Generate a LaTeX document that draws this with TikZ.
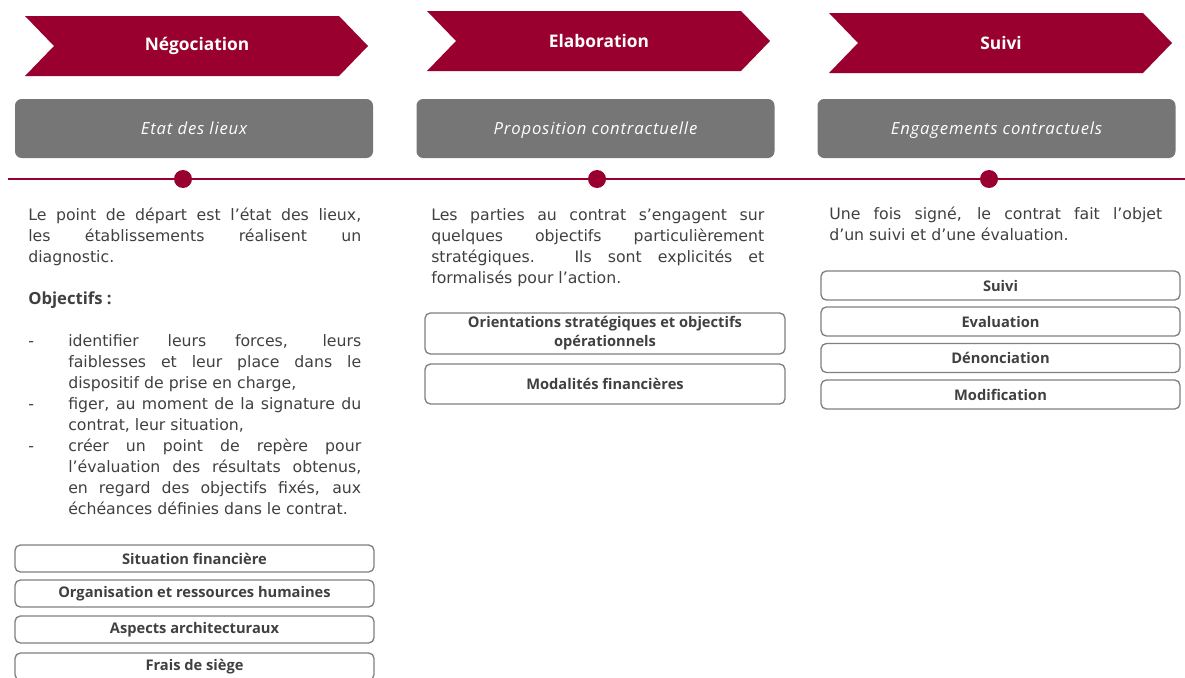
\documentclass[tikz,border=0pt]{standalone}
\usepackage{fontspec}
\setmainfont{Open Sans}
\newfontfamily\bodyfont{DejaVu Sans}
\definecolor{ctcrimson}{RGB}{153,0,48}
\definecolor{ctgray}{RGB}{118,118,118}
\definecolor{ctborder}{RGB}{128,128,128}
\definecolor{cttext}{RGB}{64,64,64}
\usetikzlibrary{positioning}
\tolerance=10000
\hyphenpenalty=10000
\newcommand{\tiret}{\par\noindent\hangindent=30pt\hangafter=1\makebox[30pt][l]{-}}
\tikzset{
  phase/.style={fill=ctcrimson},
  phaselabel/.style={text=white,font=\fontsize{13}{15}\selectfont\bfseries},
  stagebox/.style={fill=ctgray,rounded corners=5pt,text=white,font=\fontsize{12.5}{15}\selectfont\itshape\addfontfeatures{LetterSpace=5},minimum width=268.5pt,minimum height=44.25pt,text height=9pt,text depth=0pt},
  itembox/.style={draw=ctborder,line width=1pt,rounded corners=4pt,text=cttext,font=\fontsize{11}{14.25}\selectfont\bfseries,align=center,inner sep=0pt,minimum width=269.25pt},
  bodytext/.style={anchor=north west,inner sep=0pt,text width=249.75pt,align=justify,text=cttext,font=\bodyfont\fontsize{11.8}{15.75}\selectfont},
  dot/.style={circle,fill=ctcrimson,inner sep=0pt,minimum size=13.5pt},
}

\begin{document}
\begin{tikzpicture}[x=0.75pt,y=-0.75pt]
  \useasboundingbox (0,0) rectangle (1185,678);
  % Phases
  \foreach \x/\y/\t/\n in {25/16/Négociation/neg, 427/11/Elaboration/ela, 829/13/Suivi/sui} {
    \fill[phase] (\x,\y) -- ++(314,0) -- ++(29,30) -- ++(-29,30) -- ++(-314,0) -- ++(29,-30) -- cycle;
    \node[phaselabel] (\n) at (\x+172,\y+30) {\t};
  }
  \node[stagebox] (etat) at (194,128.5) {Etat des lieux};
  \node[stagebox] (prop) at (595.5,128.5) {Proposition contractuelle};
  \node[stagebox] (enga) at (996.5,128.5) {Engagements contractuels};

  % Timeline
  \coordinate (tlstart) at (8,179);
  \coordinate (tlend) at (1185,179);
  \draw[ctcrimson,line width=1.2pt] (tlstart) -- (tlend);
  \node[dot] (dneg) at (183,179) {};
  \node[dot] (dela) at (597,179) {};
  \node[dot] (dsui) at (989,179) {};

  % Texts
  \node[bodytext] (tneg) at (28,208) {Le point de départ est l’état des lieux,\linebreak les établissements réalisent un\linebreak diagnostic.\par\vskip15.75pt
    \noindent{\rmfamily\bfseries\fontsize{12.5}{15.75}\selectfont Objectifs :}\par\vskip15.75pt
    \tiret identifier leurs forces, leurs\linebreak faiblesses et leur place dans le\linebreak dispositif de prise en charge,
    \tiret figer, au moment de la signature du\linebreak contrat, leur situation,
    \tiret créer un point de repère pour\linebreak l’évaluation des résultats obtenus,\linebreak en regard des objectifs fixés, aux\linebreak échéances définies dans le contrat.\par};
  \node[bodytext] (tela) at (431,208) {Les parties au contrat s’engagent sur\linebreak quelques objectifs particulièrement\linebreak stratégiques. Ils sont explicités et\linebreak formalisés pour l’action.};
  \node[bodytext] (tsui) at (829,207) {Une fois signé, le contrat fait l’objet\linebreak d’un suivi et d’une évaluation.};

  % Items
  \foreach \y/\t [count=\i] in {558.5/Situation financière, 593.5/Organisation et ressources humaines, 629.5/Aspects architecturaux, 666.5/Frais de siège}
    \node[itembox,minimum height=20.25pt] (negitem\i) at (194.5,\y) {\t};
  \node[itembox,minimum width=270pt,minimum height=30.75pt] (elaitem1) at (605,333.5) {Orientations stratégiques et objectifs\\opérationnels};
  \node[itembox,minimum width=270pt,minimum height=30pt] (elaitem2) at (605,384) {Modalités financières};
  \foreach \y/\t [count=\i] in {285.5/Suivi, 321.5/Evaluation, 358/Dénonciation, 394.5/Modification}
    \node[itembox,minimum height=21.75pt] (suiitem\i) at (1000.5,\y) {\t};
\end{tikzpicture}
\end{document}
